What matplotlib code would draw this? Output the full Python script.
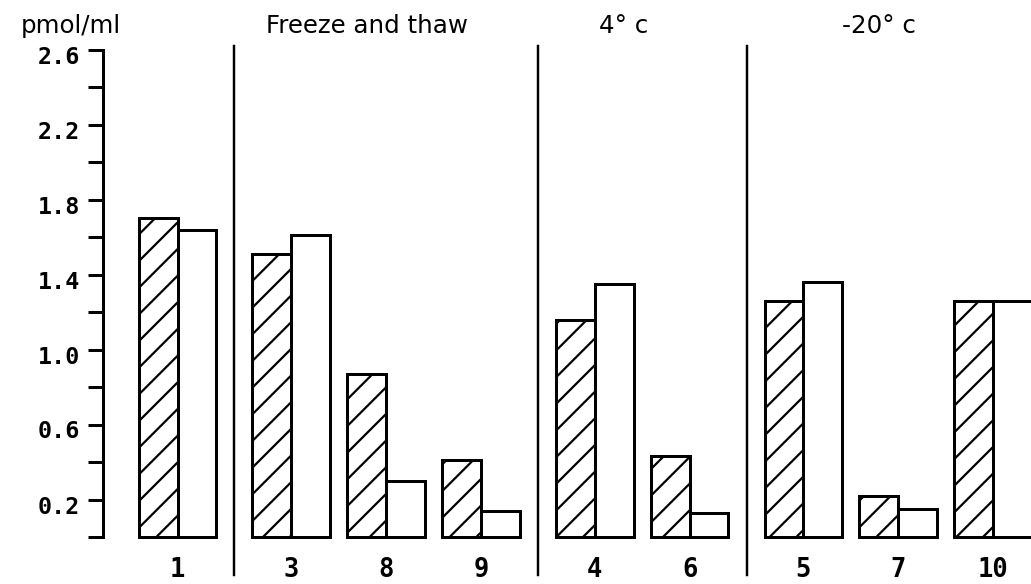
import numpy as np
import matplotlib
matplotlib.use('Agg')
import matplotlib.pyplot as plt
import matplotlib.transforms as mtrans

# sample numbers along the x axis, and which storage condition they belong to
samples = ['1', '3', '8', '9', '4', '6', '5', '7', '10']
section = [0, 1, 1, 1, 2, 2, 3, 3, 3]
hatched = [1.70, 1.51, 0.87, 0.41, 1.16, 0.43, 1.26, 0.22, 1.26]  # hatched bars
plain = [1.64, 1.61, 0.30, 0.14, 1.35, 0.13, 1.36, 0.15, 1.26]    # open bars
headings = ['Freeze and thaw', '4° c', '-20° c']
ylabel = 'pmol/ml'
major = [0.2, 0.6, 1.0, 1.4, 1.8, 2.2, 2.6]
minor = [0.0, 0.4, 0.8, 1.2, 1.6, 2.0, 2.4]

plt.rcParams['hatch.linewidth'] = 1.0
plt.rcParams['hatch.color'] = 'black'

dpi = 160  # higher dpi spreads the hatch lines out like the original
fig = plt.figure(figsize=(1031/dpi, 584/dpi), dpi=dpi)
ax = fig.add_axes([103/1031, 47/584, 1-103/1031, 487.5/584])

sec = np.array(section)
pos = np.arange(len(samples)) + 0.2*sec
w = 0.41
ax.bar(pos - w/2, hatched, w, facecolor='white', edgecolor='black',
       hatch='//', linewidth=1.35, clip_on=False)
ax.bar(pos + w/2, plain, w, facecolor='white', edgecolor='black',
       linewidth=1.35, clip_on=False)

# vertical separators between storage conditions + headings
for s in range(1, 4):
    xs = (pos[sec == s-1].max() + pos[sec == s].min())/2
    ax.plot([xs, xs], [-0.2, 2.62], color='black', lw=1.1, clip_on=False)
    xc = pos[sec == s].mean() - 0.2
    ax.text(xc, 2.725, headings[s-1], ha='center', va='center',
            fontsize=11, family='DejaVu Sans', clip_on=False)

fig.text(71/1031, 1-26/584, ylabel, ha='center', va='center',
         fontsize=11, family='DejaVu Sans')

ax.set_xlim(-0.786, 9.0)
ax.set_ylim(0, 2.6)
ax.set_yticks(major, [f'{v:.1f}' for v in major])
ax.set_yticks(minor, minor=True)
ax.tick_params(axis='y', which='both', length=6.75, width=1.35, direction='out', pad=3.6)
ax.set_xticks(pos, samples)
ax.tick_params(axis='x', length=0, pad=9)
shift = mtrans.ScaledTranslation(0, -5/dpi, fig.dpi_scale_trans)
for lab in ax.get_yticklabels():
    lab.set_family('DejaVu Sans Mono')
    lab.set_weight('bold')
    lab.set_fontsize(10.5)
    lab.set_transform(lab.get_transform() + shift)
for lab in ax.get_xticklabels():
    lab.set_family('DejaVu Sans Mono')
    lab.set_weight('bold')
    lab.set_fontsize(11.5)

for sp in ['top', 'right', 'bottom']:
    ax.spines[sp].set_visible(False)
ax.spines['left'].set_linewidth(1.35)
ax.spines['left'].set_bounds(0, 2.6)
ax.patch.set_visible(False)

fig.savefig('out.png', dpi=dpi)
